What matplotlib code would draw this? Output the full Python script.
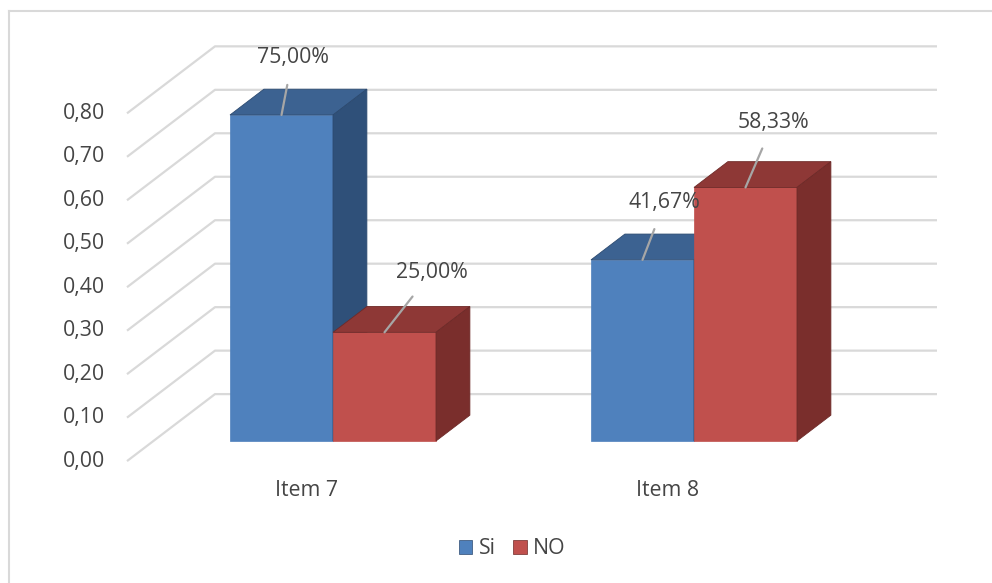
import matplotlib
matplotlib.use("Agg")
import matplotlib.pyplot as plt
from matplotlib.patches import Polygon, Patch
from matplotlib.lines import Line2D

plt.rcParams['font.family'] = ['Open Sans', 'DejaVu Sans']

# ---------------- data ----------------
categories = ["Item 7", "Item 8"]
series_names = ["Si", "NO"]
si_values = [0.75, 0.4167]
no_values = [0.25, 0.5833]
y_ticks = [0.0, 0.1, 0.2, 0.3, 0.4, 0.5, 0.6, 0.7, 0.8]
y_tick_labels = ["0,00", "0,10", "0,20", "0,30", "0,40", "0,50", "0,60", "0,70", "0,80"]
si_labels = ["75,00%", "41,67%"]
no_labels = ["25,00%", "58,33%"]

# ---------------- style / layout ----------------
front_col = {"Si": "#4F81BD", "NO": "#C0504D"}
top_col = {"Si": "#3C6291", "NO": "#8E3836"}
side_col = {"Si": "#2F5079", "NO": "#7A2E2C"}
edge_col = {"Si": "#2C4A70", "NO": "#6E2A28"}
grid_col = "#D9D9D9"
text_col = "#454545"
FS = 15.3

W, H = 992, 583
fig = plt.figure(figsize=(W / 100, H / 100), dpi=100)
ax = fig.add_axes([0, 0, 1, 1])
px_x = 361.0   # pixels per category unit
px_y = 434.7   # pixels per value unit
x0_px, y0_px = 333.0, 441.0
ax.set_xlim(-x0_px / px_x, (W - x0_px) / px_x)
ax.set_ylim((y0_px - H) / px_y, y0_px / px_y)
ax.axis("off")

DXT = 88 / px_x      # total floor depth (x)
DYT = 67 / px_y      # total floor depth (y)
f_front = 0.30       # depth fraction of bar front
f_back = 0.685       # depth fraction of bar back
bar_w = 103 / px_x
dx = (f_back - f_front) * DXT
dy = (f_back - f_front) * DYT

x_left_back = (215 - x0_px) / px_x
x_left_front = x_left_back - DXT
x_right = (937 - x0_px) / px_x

# gridlines: left wall diagonals + back wall horizontals
for v in y_ticks:
    yf = v - f_front * DYT
    yb = v + (1 - f_front) * DYT
    ax.plot([x_left_front, x_left_back, x_right], [yf, yb, yb],
            color=grid_col, lw=1.6, zorder=1, solid_capstyle="butt")

# y tick labels on front plane
for v, lab in zip(y_ticks, y_tick_labels):
    ax.text(x_left_front - 22 / px_x, v - f_front * DYT, lab, ha="right",
            va="center", fontsize=FS, color=text_col)

# bars
def draw_box(x0, x1, v, name, z):
    ax.bar([(x0 + x1) / 2], [v], width=x1 - x0, color=front_col[name],
           edgecolor=front_col[name], lw=0.5, zorder=z)
    top = Polygon([(x0, v), (x1, v), (x1 + dx, v + dy), (x0 + dx, v + dy)],
                  closed=True, facecolor=top_col[name], edgecolor=edge_col[name],
                  lw=0.6, zorder=z)
    side = Polygon([(x1, 0), (x1 + dx, dy), (x1 + dx, v + dy), (x1, v)],
                   closed=True, facecolor=side_col[name], edgecolor=edge_col[name],
                   lw=0.6, zorder=z)
    ax.add_patch(top)
    ax.add_patch(side)

label_offsets_si = [(11, 57), (22, 57)]
label_offsets_no = [(47, 60), (28, 65)]

for i in range(len(categories)):
    draw_box(i - bar_w, i, si_values[i], "Si", 3 + 2 * i)
    draw_box(i, i + bar_w, no_values[i], "NO", 4 + 2 * i)

for i in range(len(categories)):
    for vals, labs, offs, xc in ((si_values, si_labels, label_offsets_si, i - bar_w / 2),
                                 (no_values, no_labels, label_offsets_no, i + bar_w / 2)):
        ax.annotate(labs[i], xy=(xc, vals[i]), xytext=offs[i], textcoords="offset pixels",
                    ha="center", va="center", fontsize=FS, color=text_col, zorder=20,
                    arrowprops=dict(arrowstyle="-", color="#A6A6A6", lw=1.6,
                                    shrinkA=10, shrinkB=0))

# category labels
for i, c in enumerate(categories):
    ax.text(i - f_front * DXT, (y0_px - 491) / px_y, c, ha="center", va="center",
            fontsize=FS, color=text_col)

# legend
handles = [Patch(facecolor=front_col[n], edgecolor=edge_col[n], lw=0.5) for n in series_names]
fig.legend(handles, series_names, loc="center", bbox_to_anchor=(512 / W, 1 - 549 / H),
           ncol=2, frameon=False, fontsize=FS, handlelength=0.65, handleheight=0.65,
           handletextpad=0.3, columnspacing=0.8, labelcolor=text_col)

# chart area border
fig.add_artist(Line2D([9 / W, 9 / W], [0, 1 - 11 / H], color="#D9D9D9", lw=1.5))
fig.add_artist(Line2D([9 / W, 1], [1 - 11 / H, 1 - 11 / H], color="#D9D9D9", lw=1.5))

fig.savefig("out.png", dpi=100, facecolor="white")
